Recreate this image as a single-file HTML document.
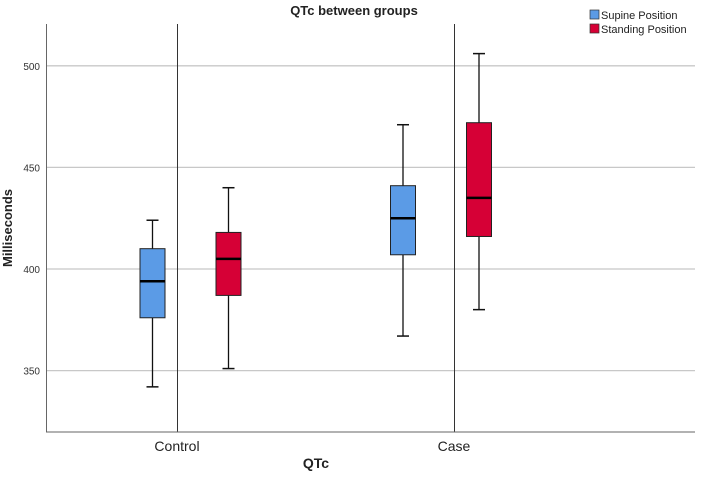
<!DOCTYPE html>
<html><head><meta charset="utf-8"><style>
body{margin:0;background:#fff;font-family:"Liberation Sans",sans-serif}
</style></head><body>
<svg id="chart" width="709" height="473" xmlns="http://www.w3.org/2000/svg">
<text x="354" y="15" text-anchor="middle" font-size="13" font-weight="bold" fill="#222">QTc between groups</text>
<g id="grid"></g>
<g id="boxes"></g>
<line x1="46.5" y1="24" x2="46.5" y2="432" stroke="#666"/>
<line x1="46" y1="432" x2="695" y2="432" stroke="#666"/>
<text transform="translate(12,228) rotate(-90)" text-anchor="middle" font-size="13" font-weight="bold" fill="#222">Milliseconds</text>
<text x="316" y="468" text-anchor="middle" font-size="14" font-weight="bold" fill="#222">QTc</text>
<g>
<rect x="590" y="10" width="9" height="9" fill="#5b9be6" stroke="#333" stroke-width="0.7"/>
<text x="601" y="19" font-size="11" fill="#222">Supine Position</text>
<rect x="590" y="24" width="9" height="9" fill="#d60036" stroke="#333" stroke-width="0.7"/>
<text x="601" y="33" font-size="11" fill="#222">Standing Position</text>
</g>
</svg>
<script>
const categories=["Control","Case"];
const seriesNames=["Supine Position","Standing Position"];
const colors=["#5b9be6","#d60036"];
const supMin=[342,367], supQ1=[376,407], supMed=[394,425], supQ3=[410,441], supMax=[424,471];
const stdMin=[351,380], stdQ1=[387,416], stdMed=[405,435], stdQ3=[418,472], stdMax=[440,506];
const yTicks=[350,400,450,500];
const NS="http://www.w3.org/2000/svg";
function y(v){return 269-(v-400)*101.6/50;}
const dividerX=[177,454], groupCenter=[190.5,441], offset=[-38,38];
function mk(tag,attrs,parent){const e=document.createElementNS(NS,tag);for(const k in attrs)e.setAttribute(k,attrs[k]);parent.appendChild(e);return e;}
const grid=document.getElementById('grid');
yTicks.forEach(t=>{
 const l=mk('line',{x1:46,x2:695,y1:y(t),y2:y(t),stroke:'#c8c8c8','stroke-width':1.3},grid);
 
 
 const tx=mk('text',{x:40,y:y(t)+4,'text-anchor':'end','font-size':10,fill:'#333'},grid);
 tx.textContent=t;
 
 
});
const bx=document.getElementById('boxes');
categories.forEach((c,i)=>{
 const dx=dividerX[i], cx=groupCenter[i];
 const vl=mk('line',{x1:dx+0.5,x2:dx+0.5,y1:24,y2:432,stroke:'#333'},bx);
 
 
 const lb=mk('text',{x:dx,y:451,'text-anchor':'middle','font-size':14,fill:'#222'},bx);
 lb.textContent=c;
 
 
 const sets=[[supMin,supQ1,supMed,supQ3,supMax],[stdMin,stdQ1,stdMed,stdQ3,stdMax]];
 sets.forEach((s,j)=>{
  const x=cx+offset[j], w=25;
  const g=mk('g',{},bx);
  
  
  mk('line',{x1:x,x2:x,y1:y(s[0][i]),y2:y(s[4][i]),stroke:'#111','stroke-width':1.3},g);
  mk('line',{x1:x-6,x2:x+6,y1:y(s[0][i]),y2:y(s[0][i]),stroke:'#111','stroke-width':1.5},g);
  mk('line',{x1:x-6,x2:x+6,y1:y(s[4][i]),y2:y(s[4][i]),stroke:'#111','stroke-width':1.5},g);
  mk('rect',{x:x-w/2,y:y(s[3][i]),width:w,height:y(s[1][i])-y(s[3][i]),fill:colors[j],stroke:'#222','stroke-width':1},g);
  mk('line',{x1:x-w/2,x2:x+w/2,y1:y(s[2][i]),y2:y(s[2][i]),stroke:'#000','stroke-width':2.5},g);
 });
});
</script>
</body></html>
